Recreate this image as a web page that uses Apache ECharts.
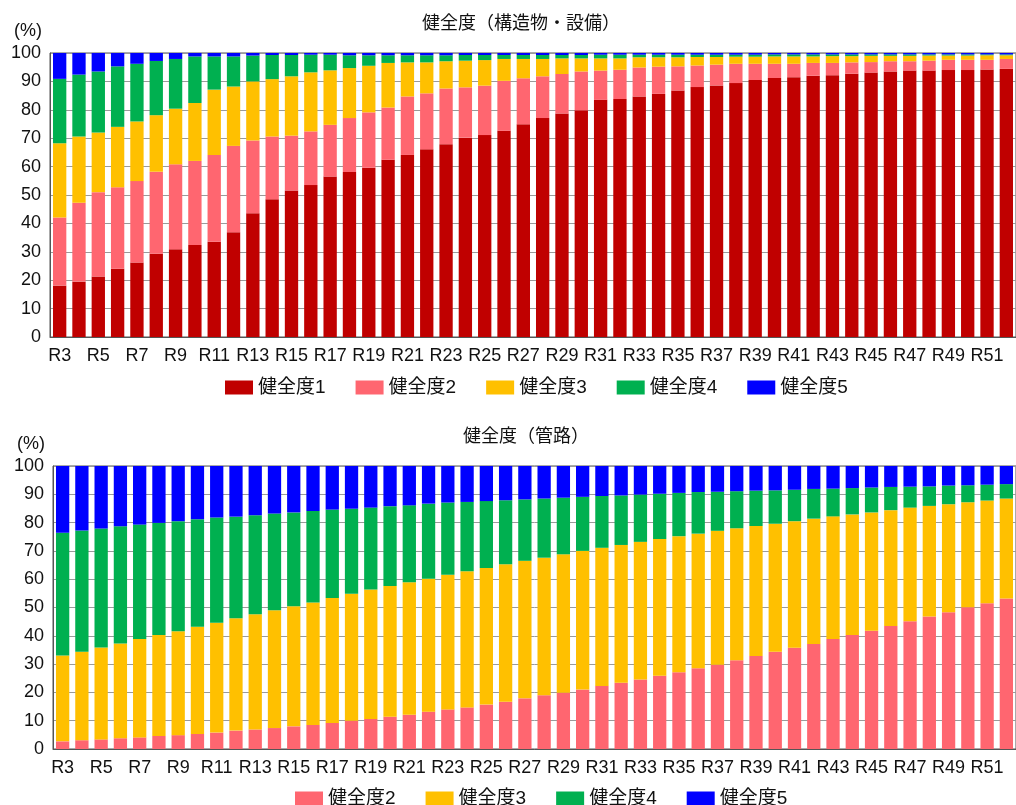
<!DOCTYPE html>
<html>
<head>
<meta charset="utf-8">
<script src="https://cdn.jsdelivr.net/npm/echarts@6/dist/echarts.min.js"></script>
<style>
html,body{margin:0;padding:0;background:#fff;}
#c{width:1016px;height:805px;}
</style>
</head>
<body>
<div id="c"></div>
<script>
// Categories R3..R52
const categories = ["R3","R4","R5","R6","R7","R8","R9","R10","R11","R12","R13","R14","R15","R16","R17","R18","R19","R20","R21","R22","R23","R24","R25","R26","R27","R28","R29","R30","R31","R32","R33","R34","R35","R36","R37","R38","R39","R40","R41","R42","R43","R44","R45","R46","R47","R48","R49","R50","R51","R52"];

const yTicks = [0,10,20,30,40,50,60,70,80,90,100];

// Top chart: 健全度（構造物・設備）
const top1 = [18.1,19.5,21.3,24.0,26.2,29.3,30.9,32.4,33.5,36.9,43.6,48.5,51.6,53.5,56.5,58.1,59.6,62.4,64.1,66.1,67.9,70.2,71.1,72.6,74.9,77.1,78.7,79.8,83.5,83.8,84.7,85.6,86.8,88.0,88.6,89.4,90.5,91.2,91.5,92.0,92.2,92.7,93.1,93.5,93.8,93.8,94.0,94.0,94.2,94.4];
const top2 = [24.0,27.8,29.7,28.7,28.7,28.9,29.9,29.6,30.6,30.4,25.6,22.1,19.3,18.9,18.2,19.0,19.5,18.4,20.6,19.7,19.6,17.7,17.4,17.6,16.2,14.7,13.9,13.7,10.3,10.3,10.2,9.6,8.5,7.6,7.3,6.8,5.7,5.0,4.7,4.5,4.3,4.0,3.7,3.6,3.3,3.5,3.6,3.6,3.4,3.5];
const top3 = [26.1,23.3,21.0,21.3,21.0,19.9,19.6,20.4,23.0,20.9,20.8,20.2,20.9,20.8,19.2,17.6,16.4,15.7,12.0,10.9,9.6,9.4,9.0,7.7,6.8,6.1,5.5,4.6,4.3,4.0,3.6,3.3,3.2,3.0,2.7,2.5,2.5,2.6,2.6,2.3,2.4,2.2,2.2,1.9,1.9,1.8,1.5,1.5,1.6,1.3];
const top4 = [22.7,21.8,21.5,21.3,20.3,19.1,17.5,16.4,11.7,10.6,9.1,8.5,7.5,6.2,5.5,4.5,3.7,2.7,2.5,2.5,2.1,2.0,1.8,1.4,1.4,1.4,1.2,1.2,1.3,1.3,0.9,0.9,0.9,0.8,0.8,0.7,0.7,0.7,0.7,0.7,0.6,0.6,0.5,0.5,0.5,0.4,0.4,0.4,0.3,0.3];
const top5 = [9.1,7.6,6.5,4.7,3.8,2.8,2.1,1.2,1.2,1.2,0.9,0.7,0.7,0.6,0.6,0.8,0.8,0.8,0.8,0.8,0.8,0.7,0.7,0.7,0.7,0.7,0.7,0.7,0.6,0.6,0.6,0.6,0.6,0.6,0.6,0.6,0.6,0.5,0.5,0.5,0.5,0.5,0.5,0.5,0.5,0.5,0.5,0.5,0.5,0.5];

// Bottom chart: 健全度（管路）
const pipe2 = [2.7,3.1,3.4,3.8,4.1,4.6,4.9,5.3,5.8,6.5,6.9,7.4,8.0,8.5,9.2,10.0,10.6,11.4,12.1,13.2,14.0,14.7,15.7,16.7,17.9,19.0,19.9,21.0,22.3,23.4,24.6,25.9,27.1,28.5,29.8,31.4,32.9,34.4,35.8,37.1,38.9,40.3,41.8,43.5,45.1,46.8,48.3,50.1,51.5,53.2];
const pipe3 = [30.3,31.3,32.5,33.5,34.8,35.7,36.7,37.9,38.8,39.7,40.7,41.6,42.4,43.3,44.2,44.9,45.8,46.2,46.8,47.0,47.6,48.1,48.3,48.6,48.6,48.6,48.9,49.0,48.8,48.7,48.6,48.3,48.1,47.6,47.3,46.6,45.9,45.2,44.7,44.3,43.3,42.6,41.8,40.9,40.2,39.1,38.2,37.1,36.3,35.3];
const pipe4 = [43.4,42.8,42.0,41.4,40.4,39.6,38.9,38.0,37.2,35.9,35.0,34.2,33.2,32.3,31.2,30.0,28.9,28.2,27.2,26.5,25.5,24.5,23.6,22.6,21.7,20.9,20.0,19.1,18.3,17.5,16.7,16.0,15.3,14.7,13.8,13.1,12.5,11.8,11.1,10.5,9.8,9.3,8.8,8.2,7.4,6.9,6.6,6.0,5.6,5.1];
const pipe5 = [23.6,22.8,22.1,21.3,20.7,20.1,19.5,18.8,18.2,17.9,17.4,16.8,16.4,15.9,15.4,15.1,14.7,14.2,13.9,13.3,12.9,12.7,12.4,12.1,11.8,11.5,11.2,10.9,10.6,10.4,10.1,9.8,9.5,9.2,9.1,8.9,8.7,8.6,8.4,8.1,8.0,7.8,7.6,7.4,7.3,7.2,6.9,6.8,6.6,6.4];

const seriesNames = ["健全度1","健全度2","健全度3","健全度4","健全度5"];
const colors = {"健全度1":"#C00000","健全度2":"#FF6670","健全度3":"#FFC000","健全度4":"#00B050","健全度5":"#0000FF"};

const FONT = "'Liberation Sans', 'Noto Sans CJK JP', sans-serif";
const txt = {color:'#111', fontFamily: FONT};

function xAxisDef(gi){
  return {
    type:'category', gridIndex:gi, data:categories,
    axisTick:{show:false},
    axisLine:{lineStyle:{color:'#555', width:1}},
    axisLabel:Object.assign({interval:1, fontSize:18, margin:10}, txt)
  };
}
function yAxisDef(gi){
  return {
    type:'value', gridIndex:gi, min:0, max:100, interval:10,
    name:'(%)', nameLocation:'end', nameGap:13,
    nameTextStyle:Object.assign({fontSize:18, align:'right', padding:[0,8,0,0]}, txt),
    axisLine:{show:true, lineStyle:{color:'#555', width:1}},
    axisTick:{show:false},
    axisLabel:Object.assign({fontSize:18, margin:9}, txt),
    splitLine:{show:true, lineStyle:{color:'#9a9a9a', width:1}}
  };
}
function bar(name, data, gi, stack){
  return {
    name:name, type:'bar', stack:stack, xAxisIndex:gi, yAxisIndex:gi,
    data:data, barCategoryGap:'31%',
    itemStyle:{color:colors[name]}, emphasis:{disabled:true}
  };
}

const chart = echarts.init(document.getElementById('c'), null, {renderer:'canvas'});
chart.setOption({
  backgroundColor:'#ffffff',
  animation:false,
  title:[
    {text:'健全度（構造物・設備）', left:417, top:10, textStyle:Object.assign({fontSize:18, fontWeight:'normal'}, txt)},
    {text:'健全度（管路）', left:458, top:423, textStyle:Object.assign({fontSize:18, fontWeight:'normal'}, txt)}
  ],
  legend:[
    {data:seriesNames, left:220, top:373, itemWidth:28, itemHeight:14, itemGap:30, icon:'rect',
     textStyle:Object.assign({fontSize:19}, txt)},
    {data:seriesNames.slice(1), left:290, top:784, itemWidth:28, itemHeight:14, itemGap:30, icon:'rect',
     textStyle:Object.assign({fontSize:19}, txt)}
  ],
  grid:[
    {left:50, top:53, width:975, height:284, show:true, borderColor:'#555', borderWidth:1, backgroundColor:'transparent'},
    {left:53, top:466, width:975, height:283, show:true, borderColor:'#555', borderWidth:1, backgroundColor:'transparent'}
  ],
  xAxis:[xAxisDef(0), xAxisDef(1)],
  yAxis:[yAxisDef(0), yAxisDef(1)],
  series:[
    bar('健全度1', top1, 0, 'a'),
    bar('健全度2', top2, 0, 'a'),
    bar('健全度3', top3, 0, 'a'),
    bar('健全度4', top4, 0, 'a'),
    bar('健全度5', top5, 0, 'a'),
    bar('健全度2', pipe2, 1, 'b'),
    bar('健全度3', pipe3, 1, 'b'),
    bar('健全度4', pipe4, 1, 'b'),
    bar('健全度5', pipe5, 1, 'b')
  ]
});
</script>
</body>
</html>
